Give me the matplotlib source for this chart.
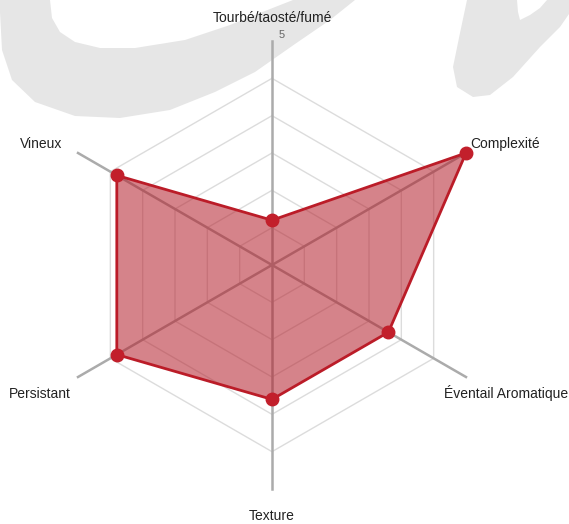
import numpy as np
import matplotlib
matplotlib.use("Agg")
import matplotlib.pyplot as plt
from matplotlib.patches import Polygon

plt.rcParams['font.family'] = ['Liberation Sans', 'DejaVu Sans']

# data
categories = ['Tourbé/taosté/fumé', 'Complexité', 'Éventail Aromatique',
              'Texture', 'Persistant', 'Vineux']
values = [1, 5, 3, 3, 4, 4]
scale_max = 5
tick_label = '5'

# label offsets from the axis end, in pixels (dx, dy up), and alignment
label_style = [
    (0, 23, 'center'),
    (4, 9, 'left'),
    (-22, -16, 'left'),
    (0, -27, 'center'),
    (-7, -17, 'right'),
    (-16, 9, 'right'),
]

W, H = 569, 524
fig = plt.figure(figsize=(W / 100, H / 100), dpi=100)

# background watermark (decorative swooshes)
bg = fig.add_axes([0, 0, 1, 1], zorder=0)
bg.set_xlim(0, W)
bg.set_ylim(H, 0)
bg.axis('off')
left_swoosh = [(0, 0), (0, 12), (2, 50), (12, 80), (35, 102), (75, 116), (120, 118),
               (170, 110), (215, 92), (255, 72), (295, 44), (330, 20), (355, 0),
               (293, 0), (265, 11), (230, 25), (185, 40), (135, 48), (100, 48),
               (75, 42), (60, 32), (52, 18), (50, 0)]
right_swoosh = [(467, 0), (517, 0), (518, 12), (520, 20), (530, 15), (540, 8),
                (547, 0), (569, 0), (569, 14), (560, 27), (540, 47), (513, 77),
                (490, 95), (473, 97), (457, 87), (453, 67), (460, 33)]
for pts in (left_swoosh, right_swoosh):
    bg.add_patch(Polygon(pts, closed=True, facecolor='#e6e6e6', edgecolor='none'))

# radar axes, center at (272, 265) px, radius 224 px
cx, cy, R = 272, 265, 224
ax = fig.add_axes([(cx - R) / W, (H - cy - R) / H, 2 * R / W, 2 * R / H],
                  projection='polar', zorder=1)
ax.patch.set_alpha(0)
ax.set_theta_offset(np.pi / 2)
ax.set_theta_direction(-1)
ax.set_ylim(0, scale_max)
ax.set_xticks([])
ax.set_yticks([])
ax.grid(False)
ax.spines['polar'].set_visible(False)

n = len(categories)
angles = np.arange(n) * 2 * np.pi / n
closed_angles = np.append(angles, angles[0])

# grid rings
for k in range(1, 6):
    r = scale_max * k / 6
    ax.plot(closed_angles, [r] * (n + 1), color='#dcdcdc', lw=1, zorder=1)

# spokes
for a in angles:
    ax.plot([a, a], [0, scale_max], color='#ababab', lw=1.8, zorder=2,
            clip_on=False)

# series
closed_vals = values + values[:1]
ax.fill(closed_angles, closed_vals, color='#b41e2a', alpha=0.55, lw=0, zorder=3,
        clip_on=False)
ax.plot(closed_angles, closed_vals, color='#bb1c28', lw=2, zorder=4, clip_on=False)
ax.plot(angles, values, 'o', color='#c21f2b', markersize=9, zorder=5, clip_on=False)

# category labels
for a, lab, (dx, dy, ha) in zip(angles, categories, label_style):
    ax.annotate(lab, xy=(a, scale_max), xytext=(dx * 0.72, dy * 0.72),
                textcoords='offset points', ha=ha, va='center',
                fontsize=10, color='#222222', annotation_clip=False)

ax.annotate(tick_label, xy=(0, scale_max), xytext=(10 * 0.72, 6 * 0.72),
            textcoords='offset points', ha='center', va='center',
            fontsize=8, color='#666666', annotation_clip=False)

fig.savefig('out.png', dpi=100)
